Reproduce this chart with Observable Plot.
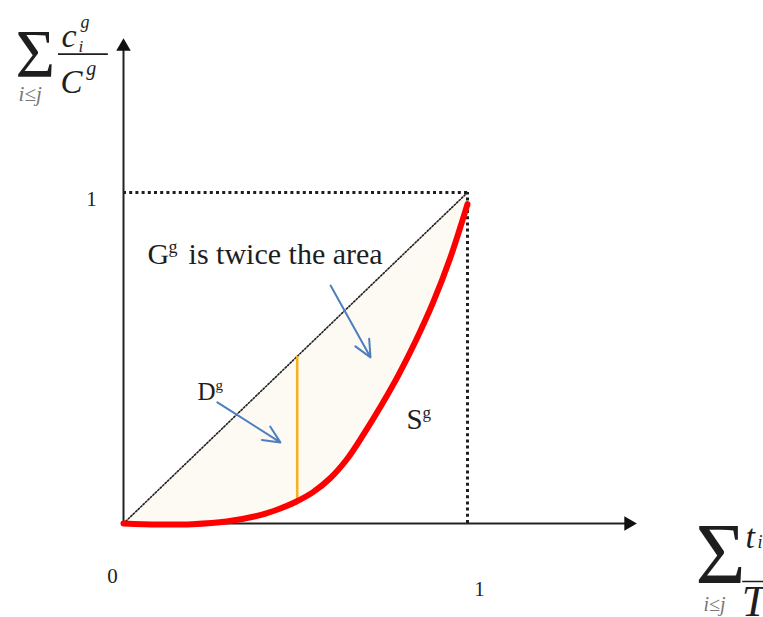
<!DOCTYPE html>
<html><head><meta charset="utf-8">
<script src="https://cdn.jsdelivr.net/npm/d3@7"></script>
<script src="https://cdn.jsdelivr.net/npm/@observablehq/plot@0.6"></script>
<style>body{margin:0;background:#fff}</style>
</head><body><div id="chart"></div>
<script>
// cumulative share of time (x) and cumulative share of class g (y) - Lorenz-type curve S^g
const shareX = [0, 0.1, 0.2, 0.3, 0.4, 0.45, 0.5, 0.55, 0.6, 0.65, 0.7, 0.75, 0.8, 0.85, 0.9, 0.95, 1.0];
const shareY = [0, -0.003, -0.002, 0.006, 0.026, 0.043, 0.065, 0.094, 0.136, 0.195, 0.273, 0.358, 0.45, 0.553, 0.668, 0.803, 0.965];
// D^g segment between the curve and the diagonal
const dSegX = [0.505];
const dSegLow = [0.072];
const dSegHigh = [0.505];
// blue pointer arrows [x1, y1, x2, y2]
const pointers = [[0.602, 0.719, 0.718, 0.502], [0.273, 0.366, 0.456, 0.245]];
// tick labels
const tickLabels = ["0", "1", "1"];
const axisEnds = {x: 1.46, y: 1.43};

const curve = shareX.map((x, i) => ({x, y: shareY[i]}));
const serif = "Liberation Serif, Times New Roman, serif";
const ink = "#1e1e1e";

function T(str, x, y, o = {}) {
  return Plot.text([{t: str, x, y}], {
    x: "x", y: "y", text: "t", textAnchor: "start", lineAnchor: "bottom",
    fontFamily: serif, fill: ink, fontSize: 30, ...o
  });
}

const chart = Plot.plot({
  width: 763,
  height: 617,
  margin: 0,
  x: {type: "linear", domain: [0, 1], range: [123, 467], axis: null},
  y: {type: "linear", domain: [0, 1], range: [523, 192], axis: null},
  marks: [
    // shaded area between the diagonal and S^g
    Plot.areaY(curve, {x: "x", y1: "y", y2: "x", fill: "#fdf9f3", curve: "catmull-rom"}),
    // dotted guide lines at 1
    Plot.ruleY([1], {x1: 0, x2: 1, stroke: ink, strokeWidth: 3, strokeDasharray: "3,3.2"}),
    Plot.ruleX([1], {y1: 0, y2: 1, stroke: ink, strokeWidth: 3, strokeDasharray: "3,3.2"}),
    // diagonal (line of equality)
    Plot.line([{x: 0, y: 0}, {x: 1, y: 1}], {x: "x", y: "y", stroke: "#222", strokeWidth: 1.6, strokeDasharray: "1.5,1.9"}),
    // axes
    Plot.ruleY([0], {x1: 0, x2: axisEnds.x, stroke: "#222", strokeWidth: 2}),
    Plot.ruleX([0], {y1: 0, y2: axisEnds.y, stroke: "#222", strokeWidth: 2}),
    Plot.dot([{x: axisEnds.x + 0.008, y: 0}], {x: "x", y: "y", symbol: "triangle", r: 5.4, fill: "#111", stroke: null, rotate: 90}),
    Plot.dot([{x: 0, y: axisEnds.y + 0.011}], {x: "x", y: "y", symbol: "triangle", r: 5.4, fill: "#111", stroke: null}),
    Plot.dot([{x: 0, y: 0}], {x: "x", y: "y", r: 2.5, fill: "#111", stroke: null}),
    // D^g segment
    Plot.ruleX(dSegX, {x: d => d, y1: (d, i) => dSegLow[i], y2: (d, i) => dSegHigh[i], stroke: "#f5b324", strokeWidth: 2.6}),
    // S^g curve
    Plot.line(curve, {x: "x", y: "y", stroke: "#ff0000", strokeWidth: 6, curve: "catmull-rom"}),
    // pointers
    Plot.arrow(pointers, {x1: d => d[0], y1: d => d[1], x2: d => d[2], y2: d => d[3], stroke: "#4d7fbf", strokeWidth: 2, headLength: 14, headAngle: 50}),
    // annotations
    T("G", 0.070, 0.785, {fontSize: 30}),
    T("g", 0.070, 0.785, {fontSize: 18, dx: 21, dy: -11}),
    T("is twice the area", 0.070, 0.785, {fontSize: 30, dx: 41}),
    T("D", 0.215, 0.372, {fontSize: 25}),
    T("g", 0.215, 0.372, {fontSize: 15, dx: 18, dy: -10}),
    T("S", 0.823, 0.287, {fontSize: 29}),
    T("g", 0.823, 0.287, {fontSize: 17, dx: 16, dy: -11}),
    // tick labels
    T(tickLabels[0], 0, 0, {fontSize: 21, textAnchor: "middle", dx: -11, dy: 59}),
    T(tickLabels[1], 1, 0, {fontSize: 21, textAnchor: "middle", dx: 12, dy: 72}),
    T(tickLabels[2], 0, 1, {fontSize: 21, textAnchor: "middle", dx: -32, dy: 13}),
    // y-axis label: sum_{i<=j} c_i^g / C^g
    T("Σ", -0.314, 1.353, {fontSize: 68}),
    T("i≤j", -0.305, 1.275, {fontSize: 21, fontStyle: "italic", fill: "#777", letterSpacing: "1px"}),
    T("c", -0.180, 1.441, {fontSize: 34, fontStyle: "italic"}),
    T("g", -0.125, 1.498, {fontSize: 18, fontStyle: "italic"}),
    T("i", -0.131, 1.424, {fontSize: 17, fontStyle: "italic"}),
    Plot.ruleY([1.418], {x1: -0.189, x2: -0.044, stroke: ink, strokeWidth: 1.6}),
    T("C", -0.183, 1.302, {fontSize: 33, fontStyle: "italic"}),
    T("g", -0.108, 1.356, {fontSize: 20, fontStyle: "italic"}),
    // x-axis label: sum_{i<=j} t_i / T
    T("Σ", 1.663, -0.181, {fontSize: 86}),
    T("i≤j", 1.686, -0.263, {fontSize: 20, fontStyle: "italic", fill: "#777", letterSpacing: "1px"}),
    T("t", 1.808, -0.073, {fontSize: 34, fontStyle: "italic"}),
    T("i", 1.843, -0.073, {fontSize: 18, fontStyle: "italic"}),
    Plot.ruleY([-0.175], {x1: 1.80, x2: 1.95, stroke: ink, strokeWidth: 1.6}),
    T("T", 1.797, -0.278, {fontSize: 44, fontStyle: "italic"})
  ]
});
document.getElementById("chart").append(chart);
</script>
</body></html>
